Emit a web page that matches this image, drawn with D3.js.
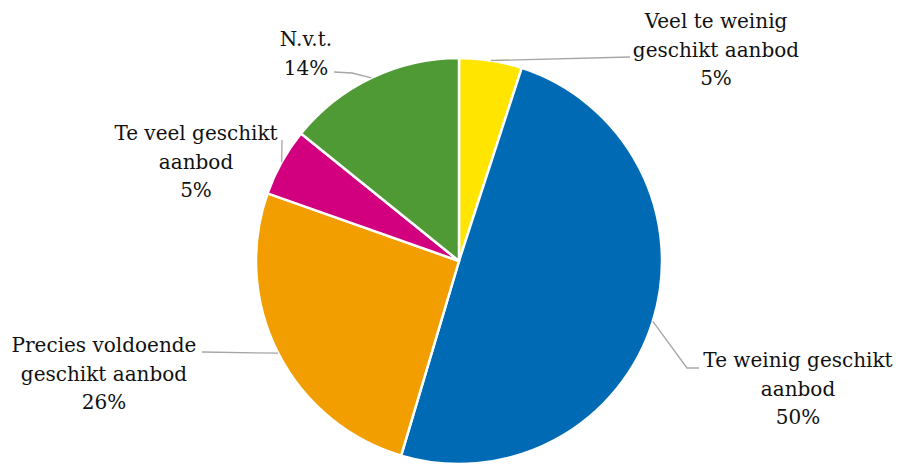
<!DOCTYPE html>
<html>
<head>
<meta charset="utf-8">
<script src="https://cdn.jsdelivr.net/npm/d3@7"></script>
<style>
  body { margin: 0; background: #fff; }
  .pie-label { font-family: "DejaVu Serif", serif; font-size: 20px; fill: #111; }
  .leader { fill: none; stroke: #a6a6a6; stroke-width: 1.3; }
</style>
</head>
<body>
<svg width="898" height="464"></svg>
<script>
var categories = ["Veel te weinig geschikt aanbod", "Te weinig geschikt aanbod",
                  "Precies voldoende geschikt aanbod", "Te veel geschikt aanbod", "N.v.t."];
var values = [5.0, 49.6, 25.8, 5.4, 14.2];
var colors = ["#ffe500", "#006bb4", "#f29e00", "#d2007f", "#4f9a34"];
// label text split into lines, as laid out in the chart
var labelLines = [
  ["Veel te weinig", "geschikt aanbod"],
  ["Te weinig geschikt", "aanbod"],
  ["Precies voldoende", "geschikt aanbod"],
  ["Te veel geschikt", "aanbod"],
  ["N.v.t."]
];

// layout: label centre x / first baseline, and leader bend points
var labelPos = [[716, 28], [798, 367], [104, 352], [196, 140], [306, 46]];
var leaderEnds = [
  [[630, 57]],
  [[687, 368], [699, 368]],
  [[202, 352]],
  [[282, 140]],
  [[352, 73], [334, 72]]
];

var svg = d3.select("svg"),
    cx = 459, cy = 261, radius = 203;

var pie = d3.pie().sort(null).value(function(d){return d;});
var arc = d3.arc().innerRadius(0).outerRadius(radius);
var arcs = pie(values);

var g = svg.append("g")
    .attr("transform", "translate(" + cx + "," + cy + ")");

g.selectAll(".slice").data(arcs).enter().append("path")
    .attr("class", "slice")
    .attr("d", arc)
    .attr("fill", function(d, i){return colors[i];})
    .attr("stroke", "#fff")
    .attr("stroke-width", 2.5)
    .attr("stroke-linejoin", "round");

// leader lines start on the rim at the slice's middle angle
svg.selectAll(".leader").data(arcs).enter().append("path")
    .attr("class", "leader")
    .attr("d", function(d, i){
        var a = (d.startAngle + d.endAngle) / 2;
        var pts = [[cx + radius * Math.sin(a), cy - radius * Math.cos(a)]].concat(leaderEnds[i]);
        return d3.line()(pts);
    });

var total = d3.sum(values);
var lh = 28.5;

var labels = svg.selectAll(".pie-label").data(arcs).enter().append("text")
    .attr("class", "pie-label")
    .attr("text-anchor", "middle")
    .attr("x", function(d, i){return labelPos[i][0];})
    .attr("y", function(d, i){return labelPos[i][1];});

labels.each(function(d, i){
    var t = d3.select(this);
    var lines = labelLines[i].concat([Math.round(d.value / total * 100) + "%"]);
    lines.forEach(function(s, k){
        t.append("tspan")
            .attr("x", labelPos[i][0])
            .attr("dy", k == 0 ? 0 : lh)
            .text(s);
    });
});
</script>
</body>
</html>
